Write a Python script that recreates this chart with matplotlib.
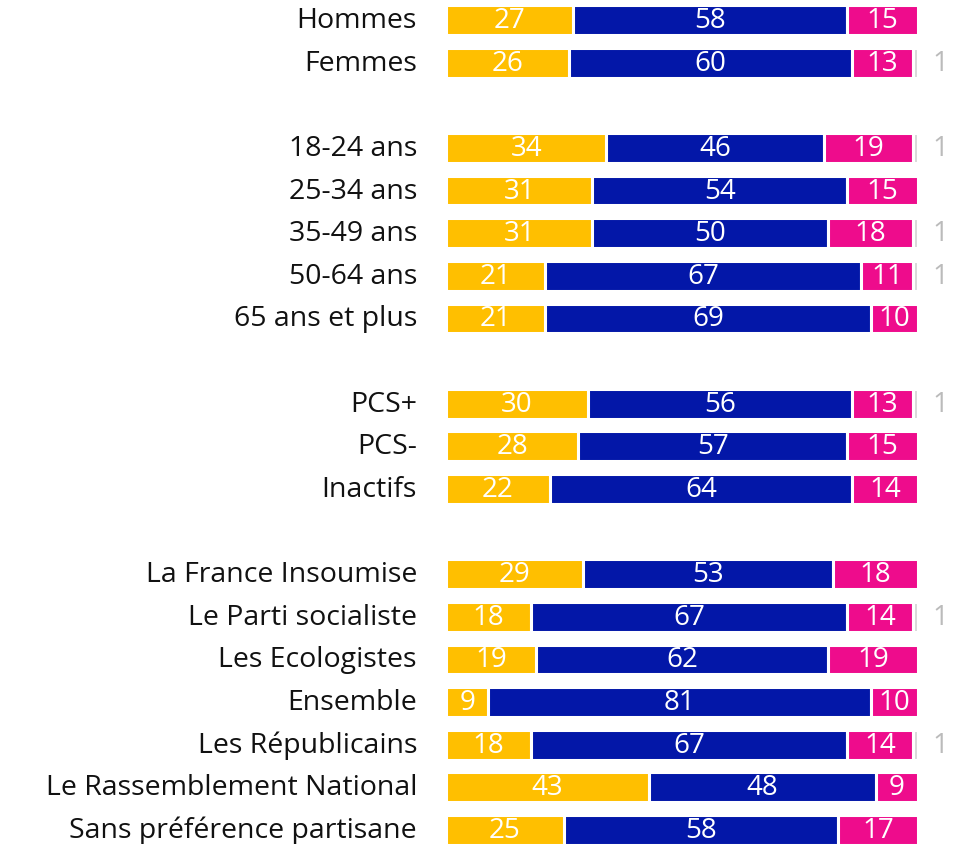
import matplotlib
matplotlib.use("Agg")
import matplotlib.pyplot as plt
import numpy as np

categories = ["Hommes", "Femmes", "",
              "18-24 ans", "25-34 ans", "35-49 ans", "50-64 ans", "65 ans et plus", "",
              "PCS+", "PCS-", "Inactifs", "",
              "La France Insoumise", "Le Parti socialiste", "Les Ecologistes", "Ensemble",
              "Les Républicains", "Le Rassemblement National", "Sans préférence partisane"]
s1 = [27, 26, None, 34, 31, 31, 21, 21, None, 30, 28, 22, None, 29, 18, 19, 9, 18, 43, 25]
s2 = [58, 60, None, 46, 54, 50, 67, 69, None, 56, 57, 64, None, 53, 67, 62, 81, 67, 48, 58]
s3 = [15, 13, None, 19, 15, 18, 11, 10, None, 13, 15, 14, None, 18, 14, 19, 10, 14, 9, 17]
s4 = [0, 1, None, 1, 0, 1, 1, 0, None, 1, 0, 0, None, 0, 1, 0, 0, 1, 0, 0]

colors = ["#FFBF00", "#0317A8", "#EE0C8C", "#D8D8D8"]
font = ["Open Sans", "DejaVu Sans"]

W, H = 961, 845
fig = plt.figure(figsize=(W / 100, H / 100), dpi=100)
x0 = 446
ax = fig.add_axes([x0 / W, 0, 1 - x0 / W, 1])
ppu = 4.72
ax.set_xlim(0, (W - x0) / ppu)
sp = (830 - 20) / 19
ax.set_ylim(19 + 14 / sp, -21 / sp)
ax.axis("off")

for i, cat in enumerate(categories):
    if not cat:
        continue
    ax.text(-29 / ppu, i, cat, ha="right", va="center", fontsize=20.5,
            family=font, color="#111111")
    left = 0
    for j, vals in enumerate([s1, s2, s3, s4]):
        v = vals[i]
        if not v:
            continue
        ax.barh(i, v, left=left, height=0.7, color=colors[j],
                edgecolor="white", linewidth=2.2)
        if j < 3:
            ax.text(left + v / 2, i, str(v), ha="center", va="center",
                    fontsize=20, family=font, color="white")
        else:
            ax.text(left + v + 22 / ppu, i, str(v), ha="center", va="center",
                    fontsize=20, family=font, color="#BBBBBB")
        left += v

fig.savefig("out.png", dpi=100)
